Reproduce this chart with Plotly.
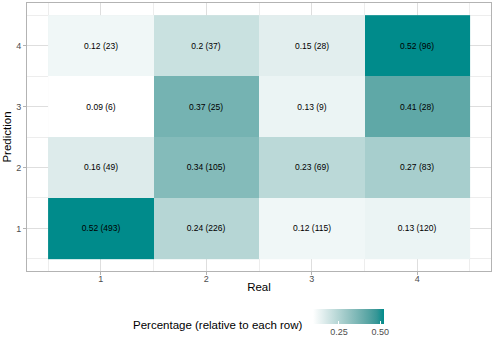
import numpy as np
import plotly.graph_objects as go

real = [1, 2, 3, 4]
prediction = [1, 2, 3, 4]
# rows = prediction 1..4, cols = real 1..4
pct = [
    [0.52, 0.24, 0.12, 0.13],
    [0.16, 0.34, 0.23, 0.27],
    [0.09, 0.37, 0.13, 0.41],
    [0.12, 0.20, 0.15, 0.52],
]
counts = [
    [493, 226, 115, 120],
    [49, 105, 69, 83],
    [6, 25, 9, 28],
    [23, 37, 28, 96],
]
cbar_ticks = [0.25, 0.50]
cbar_ticktext = ["0.25", "0.50"]


# Lab interpolation white -> darkcyan (like ggplot scale_fill_gradient)
def srgb_to_lin(c):
    c = c / 255.0
    return np.where(c <= 0.04045, c / 12.92, ((c + 0.055) / 1.055) ** 2.4)


def lin_to_srgb(c):
    c = np.clip(c, 0, 1)
    v = np.where(c <= 0.0031308, 12.92 * c, 1.055 * c ** (1 / 2.4) - 0.055)
    return np.clip(np.round(v * 255), 0, 255)


M = np.array([[0.4124, 0.3576, 0.1805], [0.2126, 0.7152, 0.0722], [0.0193, 0.1192, 0.9505]])
Minv = np.linalg.inv(M)
wp = np.array([0.95047, 1.0, 1.08883])


def f(t):
    return np.where(t > 0.008856, np.cbrt(t), 7.787 * t + 16 / 116)


def finv(t):
    return np.where(t > 0.206893, t ** 3, (t - 16 / 116) / 7.787)


def to_lab(rgb):
    xyz = M @ srgb_to_lin(np.array(rgb, float)) / wp
    fx, fy, fz = f(xyz)
    return np.array([116 * fy - 16, 500 * (fx - fy), 200 * (fy - fz)])


def from_lab(lab):
    L, a, b = lab
    fy = (L + 16) / 116
    fx = fy + a / 500
    fz = fy - b / 200
    xyz = np.array([finv(fx), finv(fy), finv(fz)]) * wp
    return lin_to_srgb(Minv @ xyz)


lo = to_lab([255, 255, 255])
hi = to_lab([0, 139, 139])
scale = []
for t in np.linspace(0, 1, 11):
    r, g, b = from_lab(lo + (hi - lo) * t)
    scale.append([float(t), f"rgb({int(r)},{int(g)},{int(b)})"])

text = [[f"{p:g} ({c})" for p, c in zip(rp, rc)] for rp, rc in zip(pct, counts)]

pw0, pw1 = 27, 491
pt0, pt1 = 3, 271
W, H = 496, 349
pw = pw1 - pw0
ph = pt1 - pt0

FONT = "Liberation Sans, Arial, sans-serif"

fig = go.Figure(
    go.Heatmap(
        x=real,
        y=prediction,
        z=pct,
        text=text,
        texttemplate="%{text}",
        textfont=dict(size=8.5, color="black", family=FONT),
        colorscale=scale,
        zmin=min(min(r) for r in pct),
        zmax=max(max(r) for r in pct),
        xgap=0,
        ygap=0,
        hoverinfo="skip",
        colorbar=dict(
            orientation="h",
            x=(348 - pw0) / pw,
            xanchor="center",
            y=(pt1 - 309) / ph,
            yanchor="top",
            len=71 / pw,
            lenmode="fraction",
            thickness=15,
            outlinewidth=0,
            tickvals=cbar_ticks,
            ticktext=cbar_ticktext,
            ticks="inside",
            ticklen=3,
            tickcolor="white",
            tickfont=dict(size=9, color="#4D4D4D"),
            xpad=0,
            ypad=0,
        ),
    )
)

axis_common = dict(
    showline=True,
    linecolor="#B3B3B3",
    linewidth=1,
    mirror=True,
    ticks="outside",
    ticklen=3,
    tickcolor="#B3B3B3",
    tickfont=dict(size=9, color="#4D4D4D"),
    showgrid=True,
    gridcolor="#DEDEDE",
    gridwidth=0.8,
    zeroline=False,
    automargin=False,
    tickmode="array",
    tickvals=[1, 2, 3, 4],
    ticktext=["1", "2", "3", "4"],
    minor=dict(tickmode="array", tickvals=[0.5, 1.5, 2.5, 3.5, 4.5], showgrid=True,
               gridcolor="#EDEDED", gridwidth=0.5, ticks=""),
)

fig.update_layout(
    width=W,
    height=H,
    margin=dict(l=pw0, r=W - pw1, t=pt0, b=H - pt1, autoexpand=False),
    paper_bgcolor="white",
    plot_bgcolor="white",
    font=dict(family=FONT, color="black"),
    xaxis=dict(axis_common, range=[0.3, 4.7], ticklabelstandoff=-4,
               title=dict(text="Real", font=dict(size=11.5, color="black"), standoff=0)),
    yaxis=dict(axis_common, range=[0.3, 4.7],
               title=dict(text="Prediction", font=dict(size=11.5, color="black"), standoff=2)),
    annotations=[
        dict(text="Percentage (relative to each row)", xref="paper", yref="paper",
             x=(305 - pw0) / pw, y=(pt1 - 325) / ph, xanchor="right", yanchor="middle",
             showarrow=False, font=dict(size=11.5, color="black")),
    ],
)

fig.write_html("out.html", config={"displayModeBar": False},
               post_script="document.body.style.margin='0';document.body.style.padding='0';")
